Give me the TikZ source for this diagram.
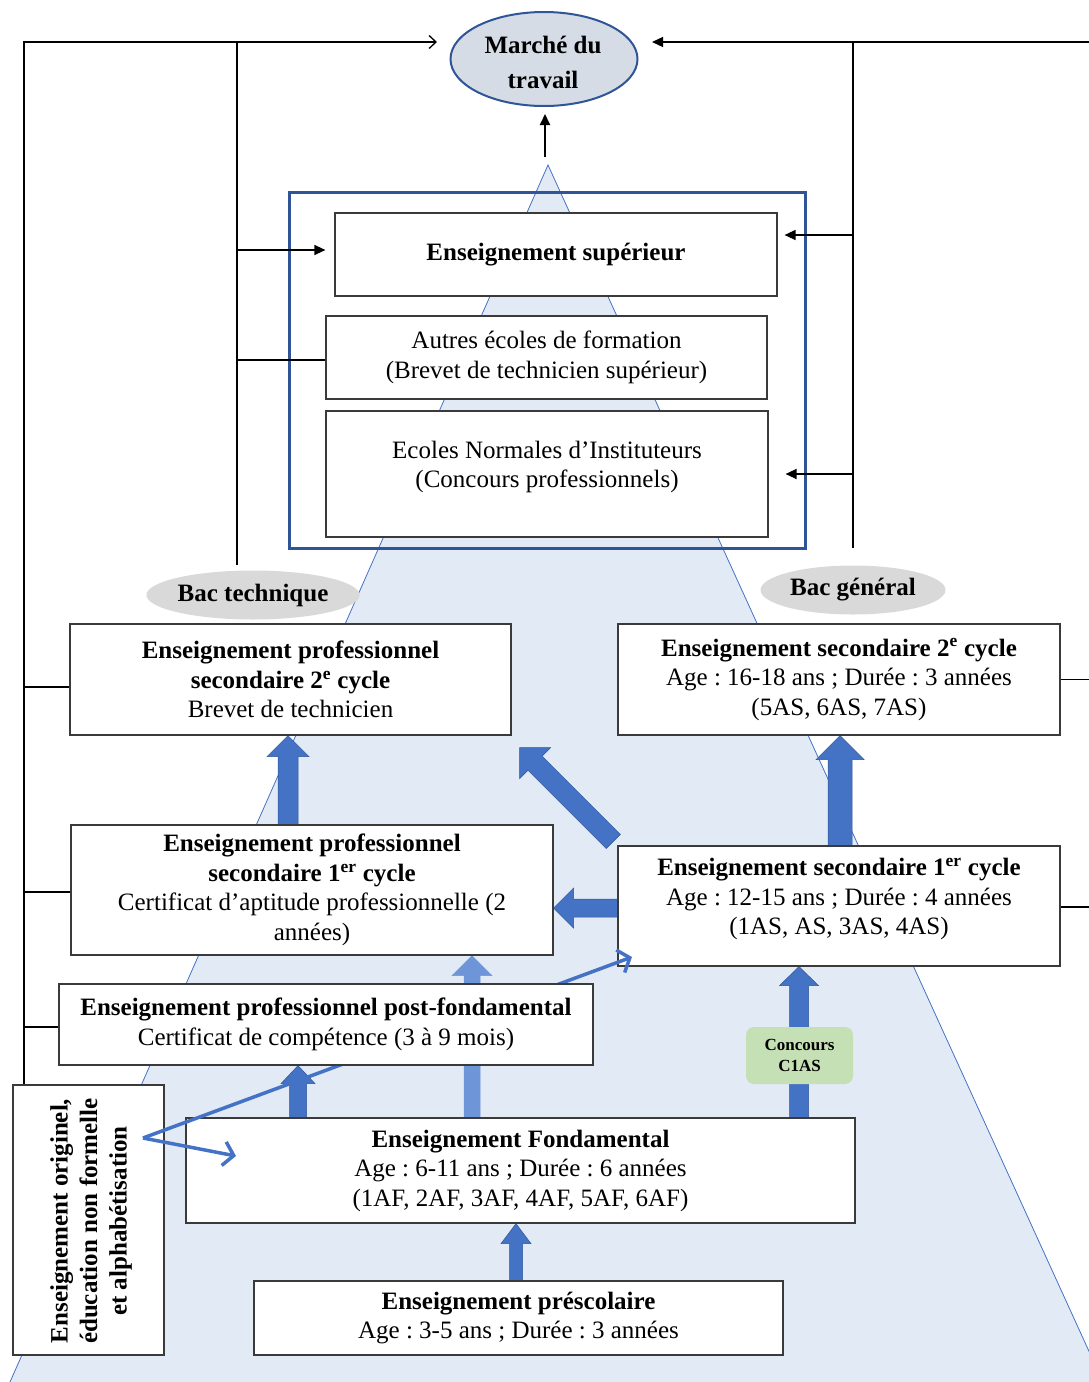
\documentclass[tikz,border=0pt]{standalone}
\usepackage{fontspec}
\setmainfont{Liberation Serif}
\usetikzlibrary{arrows.meta,calc,shapes.geometric}
\pgfdeclarelayer{bg}
\pgfdeclarelayer{arr}
\pgfdeclarelayer{efl}
\pgfdeclarelayer{thinl}
\pgfsetlayers{bg,arr,efl,thinl,main}
\frenchspacing

\definecolor{pyr}{HTML}{E2EAF6}
\definecolor{pyrline}{HTML}{4472C4}
\definecolor{blk}{HTML}{4472C4}
\definecolor{blkdark}{HTML}{2F5597}
\definecolor{blklight}{HTML}{6D95D8}
\definecolor{framec}{HTML}{2F5597}
\definecolor{marchec}{HTML}{D6DCE5}
\definecolor{bacc}{HTML}{D9D9D9}
\definecolor{concc}{HTML}{C5E0B4}
\definecolor{boxline}{HTML}{3A3A3A}

\newcommand{\blockarr}[6][]{%
  \coordinate (bA) at (#2);
  \coordinate (bB) at (#3);
  \coordinate (bH) at ($(bB)!#6!(bA)$);
  \filldraw[#1] ($(bA)!#4!90:(bB)$) -- ($(bH)!#4!90:(bB)$) -- ($(bH)!#5!90:(bB)$) -- (bB)
    -- ($(bH)!#5!-90:(bB)$) -- ($(bH)!#4!-90:(bB)$) -- ($(bA)!#4!-90:(bB)$) -- cycle;
}

\tikzset{
  txt/.style={font=\fontsize{25}{29.5}\selectfont, align=center},
  box/.style={draw=boxline, line width=1.2pt, fill=white, inner sep=0pt, txt},
  conn/.style={line width=1.3pt, draw=black},
  tipf/.style={-{Triangle[length=11pt,width=10pt]}},
  blkarrow/.style={fill=blk, draw=blkdark, line width=0.5pt},
  blkarrowlight/.style={fill=blklight, draw=blklight, line width=0.5pt},
  thinblue/.style={draw=blk, line width=3.5pt, -{Straight Barb[length=10pt,width=24pt]}},
  bacstyle/.style={ellipse, fill=bacc, minimum width=185pt, minimum height=49pt, inner sep=0pt,
    font=\bfseries\fontsize{25}{29}\selectfont}
}

\begin{document}
\begin{tikzpicture}[x=1pt,y=-1pt]
\useasboundingbox (0,0) rectangle (1089,1382);
\clip (0,0) rectangle (1089,1382);

% pyramid
\begin{pgfonlayer}{bg}
\fill[pyr] (548,165) -- (10,1382) -- (1103,1382) -- cycle;
\draw[pyrline, line width=0.8pt] (10,1382) -- (548,165) -- (1103,1382);
\end{pgfonlayer}

% boxes under thin lines
\begin{pgfonlayer}{efl}
\node[box, minimum width=151pt, minimum height=270pt] (orig) at (88.5,1220) {};
\node[txt, rotate=90, font=\bfseries\fontsize{25}{29.5}\selectfont] (origtxt) at (91,1221)
  {Enseignement originel,\\éducation non formelle\\et alphabétisation};
\node[box, minimum width=669pt, minimum height=105pt] (ef) at (520.5,1170.5)
  {\textbf{Enseignement Fondamental}\\Age : 6-11 ans ; Durée : 6 années\\(1AF, 2AF, 3AF, 4AF, 5AF, 6AF)};
\node[box, minimum width=442pt, minimum height=120pt] (es1) at (839,906) {};
\node[txt] (es1txt) at (839,899)
  {\textbf{Enseignement secondaire 1\textsuperscript{er} cycle}\\Age : 12-15 ans ; Durée : 4 années\\(1AS, AS, 3AS, 4AS)};
\end{pgfonlayer}

% main boxes
\node[ellipse, draw=framec, line width=2pt, fill=marchec, minimum width=187pt, minimum height=94pt,
  inner sep=0pt] (marche) at (544,59) {};
\node[font=\bfseries\fontsize{25}{35}\selectfont, align=center] (marchetxt) at (543,62) {Marché du\\travail};

\node[draw=framec, line width=3pt, minimum width=516pt, minimum height=356pt, inner sep=0pt] (supframe) at (547,370) {};
\node[box, minimum width=442pt, minimum height=83pt] (sup) at (556,254.5) {\textbf{Enseignement supérieur}};
\node[box, minimum width=441pt, minimum height=83pt] (autres) at (546.5,357.5)
  {Autres écoles de formation\\(Brevet de technicien supérieur)};
\node[box, minimum width=442pt, minimum height=126pt] (ecoles) at (547,474) {};
\node[txt] (ecolestxt) at (547,467) {Ecoles Normales d’Instituteurs\\(Concours professionnels)};

\node[bacstyle] (bactech) at (253,595) {Bac technique};
\node[bacstyle] (bacgen) at (853,590) {Bac général};

\node[box, minimum width=441pt, minimum height=111pt] (ep2) at (290.5,679.5)
  {\textbf{Enseignement professionnel}\\\textbf{secondaire 2\textsuperscript{e} cycle}\\Brevet de technicien};
\node[box, minimum width=442pt, minimum height=111pt] (es2) at (839,679.5)
  {\textbf{Enseignement secondaire 2\textsuperscript{e} cycle}\\Age : 16-18 ans ; Durée : 3 années\\(5AS, 6AS, 7AS)};
\node[box, minimum width=482pt, minimum height=130pt] (ep1) at (312,890)
  {\textbf{Enseignement professionnel}\\\textbf{secondaire 1\textsuperscript{er} cycle}\\Certificat d’aptitude professionnelle (2\\années)};
\node[box, minimum width=534pt, minimum height=81pt] (pf) at (326,1024.5)
  {\textbf{Enseignement professionnel post-fondamental}\\Certificat de compétence (3 à 9 mois)};
\node[box, minimum width=529pt, minimum height=74pt] (presc) at (518.5,1318)
  {\textbf{Enseignement préscolaire}\\Age : 3-5 ans ; Durée : 3 années};
\node[fill=concc, rounded corners=8pt, minimum width=107pt, minimum height=57pt, inner sep=0pt, align=center,
  font=\bfseries\fontsize{17}{21}\selectfont] (conc) at (799.5,1055.5) {Concours\\C1AS};

% block arrows
\coordinate (x288) at (288,0);
\coordinate (x840) at (840,0);
\coordinate (x472) at (472,0);
\coordinate (x298) at (298,0);
\coordinate (x516) at (516,0);
\coordinate (x799) at (799,0);
\begin{pgfonlayer}{arr}
\blockarr[blkarrow]{x288 |- ep1.north}{x288 |- ep2.south}{10pt}{21pt}{21pt}
\blockarr[blkarrow]{x840 |- es1.north}{x840 |- es2.south}{12pt}{24pt}{24pt}
\blockarr[blkarrow]{[xshift=-4pt,yshift=4pt]es1.north west}{[xshift=8pt,yshift=-12pt]ep2.south east}{10pt}{22pt}{22pt}
\coordinate (h1) at ([yshift=-2pt]es1.west);
\blockarr[blkarrow]{h1}{h1 -| ep1.east}{9pt}{20pt}{20pt}
\blockarr[blkarrowlight]{x472 |- ef.north}{x472 |- ep1.south}{8pt}{20pt}{20pt}
\blockarr[blkarrow]{x298 |- ef.north}{x298 |- pf.south}{8.5pt}{17pt}{18pt}
\blockarr[blkarrow]{x516 |- presc.north}{x516 |- ef.south}{6.5pt}{15pt}{20pt}
\blockarr[blkarrow]{x799 |- ef.north}{x799 |- es1.south}{9.5pt}{19.5pt}{19pt}
\end{pgfonlayer}

% thin blue arrows
\coordinate (src) at (143,1138);
\coordinate (t1) at (632,957);
\coordinate (t2) at (236,1156);
\begin{pgfonlayer}{thinl}
\draw[thinblue] (src) -- (t1);
\draw[thinblue] (src) -- (t2);
\end{pgfonlayer}

% black connectors
\coordinate (tl) at (24,42);
\coordinate (ml) at (437,42);
\coordinate (v1) at (237,42);
\coordinate (v1b) at (237,565);
\coordinate (b1) at (237,250);
\coordinate (b2) at (237,360);
\coordinate (tr) at (1089,42);
\coordinate (mr) at (652,42);
\coordinate (v2) at (853,42);
\coordinate (v2b) at (853,548);
\coordinate (b3) at (853,235);
\coordinate (b4) at (853,474);
\coordinate (rr) at (1089,0);
\coordinate (l1) at (24,687);
\coordinate (l2) at (24,892);
\coordinate (l3) at (24,1027);
\coordinate (mup) at (545,157);

\draw[conn, -{Straight Barb[length=7pt,width=13pt]}] (orig.north -| tl) -- (tl) -- (ml);
\draw[conn] (v1) -- (v1b);
\draw[conn, tipf, shorten >=9pt] (b1) -- (b1 -| sup.west);
\draw[conn] (b2) -- (b2 -| autres.west);
\draw[conn, tipf] (tr) -- (mr);
\draw[conn] (v2) -- (v2b);
\draw[conn, tipf, shorten >=7pt] (b3) -- (b3 -| sup.east);
\draw[conn, tipf, shorten >=17pt] (b4) -- (b4 -| ecoles.east);
\draw[conn] (es2.east) -- (es2.east -| rr);
\draw[conn] ([yshift=-1pt]es1.east) -- ([yshift=-1pt]es1.east -| rr);
\draw[conn] (l1) -- (l1 -| ep2.west);
\draw[conn] (l2) -- (l2 -| ep1.west);
\draw[conn] (l3) -- (l3 -| pf.west);
\draw[conn, line width=2pt, tipf, shorten >=7pt] (mup) -- (mup |- marche.south);
\end{tikzpicture}
\end{document}
